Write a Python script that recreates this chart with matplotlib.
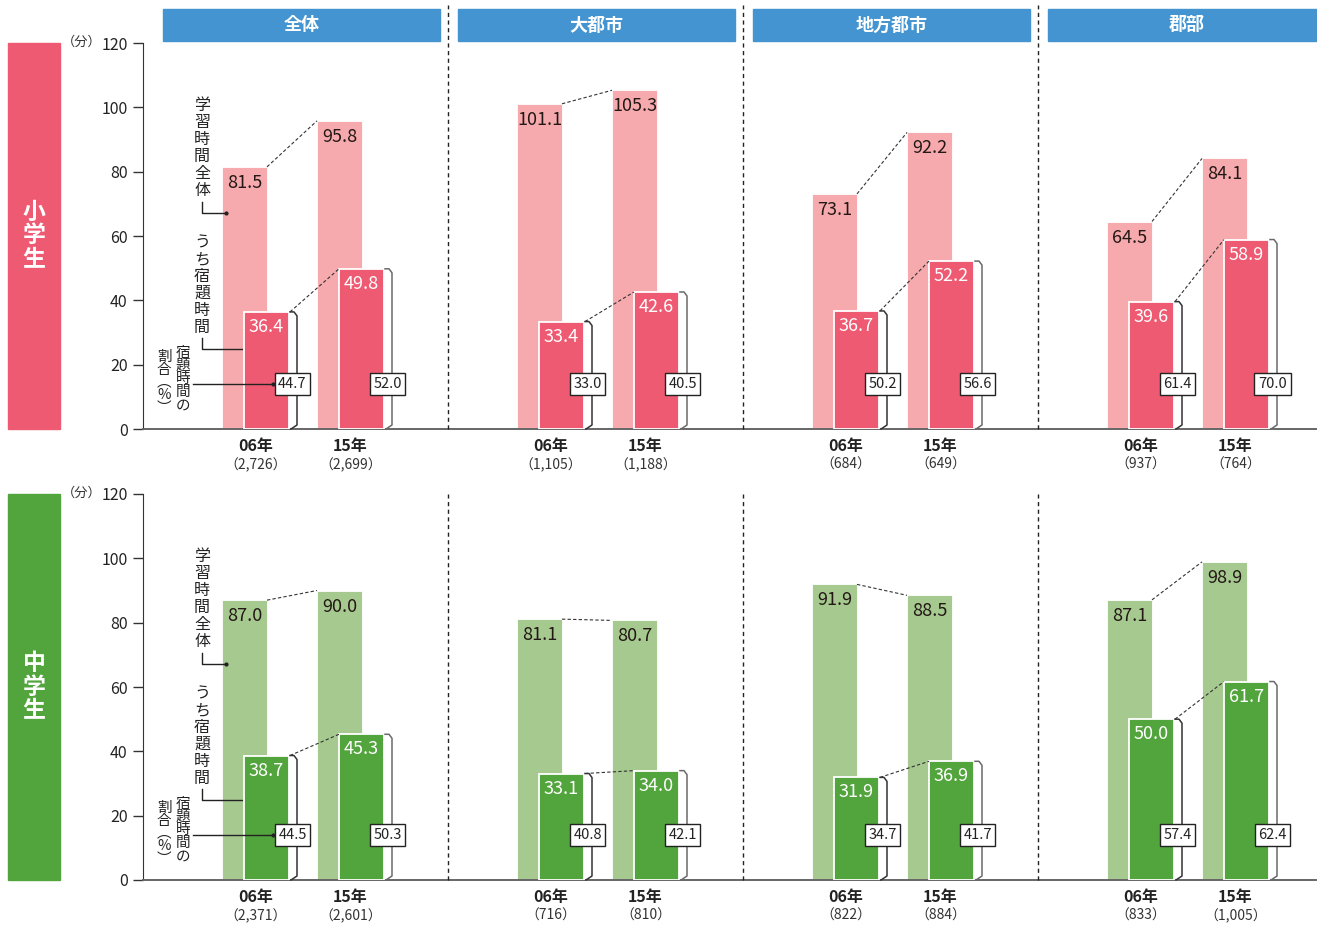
import matplotlib
matplotlib.use("Agg")
import matplotlib.pyplot as plt
from matplotlib.patches import Rectangle
from matplotlib.lines import Line2D
from matplotlib.transforms import blended_transform_factory

plt.rcParams['font.family'] = ['Noto Sans CJK JP', 'DejaVu Sans']

# 学習時間（分）・宿題時間（分）・宿題時間の割合（%）
areas = ['全体', '大都市', '地方都市', '郡部']
years = ['06年', '15年']

elem_total = [[81.5, 95.8], [101.1, 105.3], [73.1, 92.2], [64.5, 84.1]]
elem_hw = [[36.4, 49.8], [33.4, 42.6], [36.7, 52.2], [39.6, 58.9]]
elem_ratio = [[44.7, 52.0], [33.0, 40.5], [50.2, 56.6], [61.4, 70.0]]
elem_n = [['2,726', '2,699'], ['1,105', '1,188'], ['684', '649'], ['937', '764']]

jhs_total = [[87.0, 90.0], [81.1, 80.7], [91.9, 88.5], [87.1, 98.9]]
jhs_hw = [[38.7, 45.3], [33.1, 34.0], [31.9, 36.9], [50.0, 61.7]]
jhs_ratio = [[44.5, 50.3], [40.8, 42.1], [34.7, 41.7], [57.4, 62.4]]
jhs_n = [['2,371', '2,601'], ['716', '810'], ['822', '884'], ['833', '1,005']]

W, H = 1317, 949
PW = 295.0            # panel width in px
YS = 386.0 / 120      # px per minute

fig = plt.figure(figsize=(W / 100, H / 100), dpi=100)

rows = [
    dict(label='小学生', total=elem_total, hw=elem_hw, ratio=elem_ratio, n=elem_n,
         light='#f6aaae', dark='#ee5a72', block='#ee5a72', top=43),
    dict(label='中学生', total=jhs_total, hw=jhs_hw, ratio=jhs_ratio, n=jhs_n,
         light='#a6c990', dark='#52a43c', block='#52a43c', top=494),
]

bar_w = 45 / PW
dark_off = 22 / PW
bar_left = [69 / PW, 164 / PW]


def px(v):
    return v / PW


def py(v):
    return v / YS


for r, row in enumerate(rows):
    top = row['top']
    bottom = top + 386
    ax = fig.add_axes([143 / W, (H - bottom) / H, (W - 143) / W, 386 / H])
    ax.set_xlim(-10 / PW, (W - 153) / PW)
    ax.set_ylim(0, 120)
    for s in ['top', 'right']:
        ax.spines[s].set_visible(False)
    ax.spines['left'].set_color('#333333')
    ax.spines['bottom'].set_color('#666666')
    ax.spines['bottom'].set_linewidth(1.4)
    ax.set_yticks(range(0, 121, 20))
    ax.tick_params(axis='y', direction='out', length=7, width=1, color='#333333',
                   labelsize=11.5, pad=4, labelcolor='#222222')
    ax.set_xticks([])
    ax.annotate('（分）', xy=(0, 120), xycoords=('axes fraction', 'data'),
                xytext=(-41, 1), textcoords='offset pixels', ha='right', va='center',
                fontsize=9.5, color='#333333')

    ftrans = blended_transform_factory(ax.transData, fig.transFigure)

    # row block on the left
    fig.patches.append(Rectangle((8 / W, (H - bottom) / H), 52 / W, 386 / H,
                                 transform=fig.transFigure, color=row['block']))
    fig.text(34 / W, (H - (top + bottom) / 2) / H, '\n'.join(row['label']),
             ha='center', va='center', color='white', fontsize=16.5,
             fontweight='bold', linespacing=1.05)

    for i, area in enumerate(areas):
        # panel headers and dividers
        if r == 0:
            fig.patches.append(Rectangle((i + px(10), (H - 41) / H), px(277), 32 / H,
                                         transform=ftrans, color='#4394d0', clip_on=False))
            fig.text(0, 0, area, transform=ftrans, color='white', fontsize=13,
                     fontweight='bold', ha='center', va='center').set_position(
                (i + px(148.5), (H - 25) / H))
        if i > 0:
            if r == 0:
                y0, y1 = (H - bottom) / H, (H - 5) / H
            else:
                y0, y1 = (H - bottom) / H, (H - top) / H
            fig.lines.append(Line2D([i, i], [y0, y1], transform=ftrans, color='#222222',
                                    lw=1, linestyle=(0, (3, 2.5))))

        for j in range(2):
            tot = row['total'][i][j]
            hw = row['hw'][i][j]
            rat = row['ratio'][i][j]
            lx = i + bar_left[j]
            dx = lx + dark_off
            ax.bar(lx, tot, width=bar_w, align='edge', color=row['light'],
                   edgecolor='white', linewidth=0.6, zorder=2)
            ax.bar(dx, hw, width=bar_w, align='edge', color=row['dark'],
                   edgecolor='white', linewidth=1.3, zorder=3)
            ax.text(lx + bar_w / 2, tot - py(16), f'{tot:.1f}', ha='center', va='center',
                    fontsize=13, color='#231815', zorder=5)
            ax.text(dx + bar_w / 2, hw - py(15), f'{hw:.1f}', ha='center', va='center',
                    fontsize=13, color='white', zorder=5)

            # bracket on the right of the homework bar
            rx = dx + bar_w
            bx = [rx + px(1), rx + px(5), rx + px(8), rx + px(8), rx + px(2)]
            by = [hw, hw, hw - py(4), py(4), 0]
            ax.plot(bx, by, color='#333333' if j == 0 else '#6a6a6a', lw=1.1,
                    zorder=4, clip_on=False)

            ax.text(rx + px(3.5), 14.0, f'{rat:.1f}', ha='center', va='center',
                    fontsize=10.5, color='#222222', zorder=6,
                    bbox=dict(boxstyle='square,pad=0.25', fc='white', ec='#222222', lw=1))

            # year and sample size under the pair
            cx = (lx + dx + bar_w) / 2
            ax.annotate(years[j], xy=(cx, 0), xytext=(0, -17), textcoords='offset pixels',
                        ha='center', va='center', fontsize=11.5, fontweight='bold',
                        color='#222222', annotation_clip=False)
            ax.annotate(f'（{row["n"][i][j]}）', xy=(cx, 0), xytext=(0, -36),
                        textcoords='offset pixels', ha='center', va='center',
                        fontsize=10, color='#333333', annotation_clip=False)

        # dashed lines linking the two years
        t0, t1 = row['total'][i]
        h0, h1 = row['hw'][i]
        ax.plot([i + bar_left[0] + bar_w, i + bar_left[1]], [t0, t1], color='#333333',
                lw=0.8, linestyle=(0, (3, 2)), zorder=4)
        ax.plot([i + bar_left[0] + dark_off + bar_w + px(1), i + bar_left[1] + dark_off],
                [h0, h1], color='#333333', lw=0.8, linestyle=(0, (3, 2)), zorder=4)

    # explanatory labels in the first panel
    col_x = px(49)
    ax.text(col_x, py(429 - 97), '\n'.join('学習時間全体'), ha='center', va='top',
            fontsize=11.5, color='#222222', linespacing=1.0)
    ax.plot([col_x, col_x, px(73)], [py(429 - 202), py(429 - 213), py(429 - 213)],
            color='#222222', lw=1)
    ax.plot([px(73)], [py(429 - 213)], 'o', color='#222222', ms=2)

    ax.text(col_x, py(429 - 234), '\n'.join('うち宿題時間'), ha='center', va='top',
            fontsize=11.5, color='#222222', linespacing=1.0)
    ax.plot([col_x, col_x, px(98)], [py(429 - 338), py(429 - 349), py(429 - 349)],
            color='#222222', lw=1)
    ax.plot([px(98)], [py(429 - 349)], 'o', color='#222222', ms=2)

    ax.text(px(30), py(429 - 346), '\n'.join('宿題時間の'), ha='center', va='top',
            fontsize=10.5, color='#222222', linespacing=0.92)
    ax.text(px(11), py(429 - 350), '割\n合\n︵\n%\n︶', ha='center', va='top',
            fontsize=10.5, color='#222222', linespacing=0.88)
    ax.plot([px(40), px(120)], [14.0, 14.0], color='#222222', lw=1, zorder=7)
    ax.plot([px(120)], [14.0], 'o', color='#222222', ms=2, zorder=7)

fig.savefig('out.png', dpi=100)
